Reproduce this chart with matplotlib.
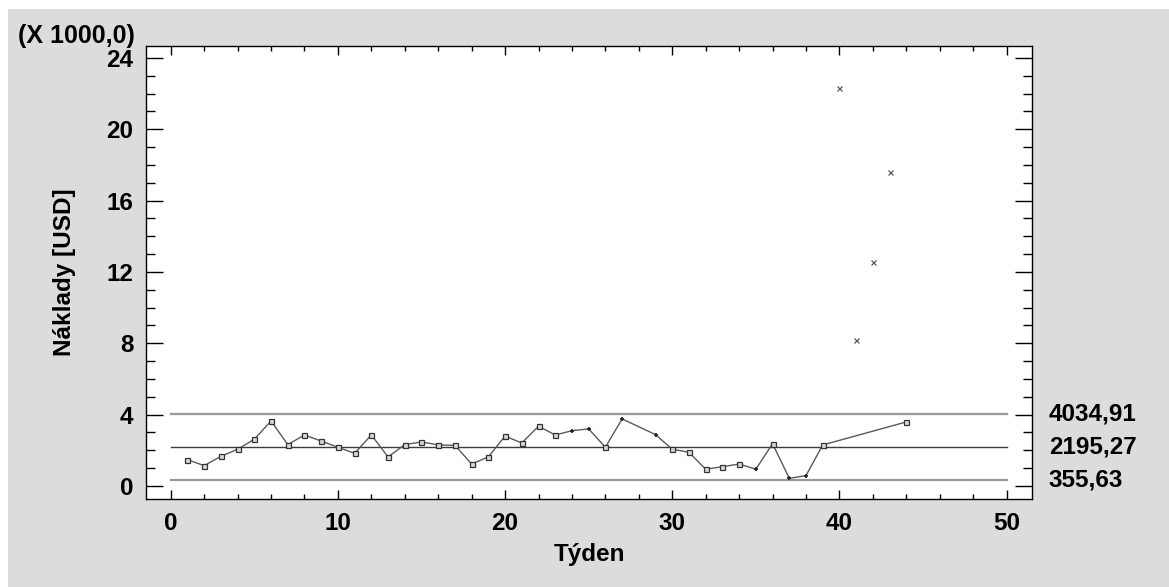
import numpy as np
import matplotlib.pyplot as plt
from matplotlib.patches import Rectangle
from matplotlib.ticker import MultipleLocator

plt.rcParams['font.family'] = ['Liberation Sans', 'DejaVu Sans']
plt.rcParams['font.weight'] = 'bold'

# weekly costs in USD
weeks = [1, 2, 3, 4, 5, 6, 7, 8, 9, 10, 11, 12, 13, 14, 15, 16, 17, 18, 19, 20,
         21, 22, 23, 24, 25, 26, 27, 29, 30, 31, 32, 33, 34, 35, 36, 37, 38, 39, 44]
costs = [1475, 1140, 1665, 2060, 2620, 3645, 2320, 2860, 2520, 2170,
         1830, 2860, 1630, 2320, 2470, 2300, 2280, 1230, 1630, 2800,
         2410, 3350, 2860, 3100, 3200, 2170, 3760, 2880, 2060, 1890,
         940, 1080, 1230, 940, 2370, 430, 580, 2300, 3590]
# weeks flagged by run rules (drawn with a plus instead of a square)
flagged = [24, 25, 27, 29, 35, 37, 38]

# weeks excluded from the limit calculation
excl_weeks = [40, 41, 42, 43]
excl_costs = [22300, 8190, 12550, 17610]

ucl, cl, lcl = 4034.91, 2195.27, 355.63

FS = 17.5

fig = plt.figure(figsize=(11.69, 5.87), dpi=100, facecolor='white')
fig.patches.append(Rectangle((8 / 1169, 0), 1, 1 - 9 / 587, transform=fig.transFigure,
                             facecolor='#dcdcdc', edgecolor='none', zorder=-10))
ax = fig.add_axes([146 / 1169, 88 / 587, 886 / 1169, 453 / 587])
ax.set_facecolor('white')

x = np.array(weeks)
y = np.array(costs) / 1000.0

ax.plot([0, 50], [ucl / 1000, ucl / 1000], color='#9a9a9a', lw=1.6, zorder=1)
ax.plot([0, 50], [lcl / 1000, lcl / 1000], color='#9a9a9a', lw=1.6, zorder=1)
ax.plot([0, 50], [cl / 1000, cl / 1000], color='#3c3c3c', lw=1.0, zorder=1)

ax.plot(x, y, color='#5a5a5a', lw=1.0, zorder=2)
sq = ~np.isin(x, flagged)
ax.plot(x[sq], y[sq], ls='none', marker='s', ms=3.6, mfc='#d8d8d8', mec='#333333',
        mew=0.9, zorder=3)
ax.plot(x[~sq], y[~sq], ls='none', marker='+', ms=3.2, mec='#222222', mew=1.2, zorder=3)
ax.plot(excl_weeks, np.array(excl_costs) / 1000.0, ls='none', marker='x', ms=3.6,
        mec='#555555', mew=0.9, zorder=3)

ax.set_xlim(-1.48, 51.52)
ax.set_ylim(-0.73, 24.67)
ax.xaxis.set_major_locator(MultipleLocator(10))
ax.xaxis.set_minor_locator(MultipleLocator(2))
ax.yaxis.set_major_locator(MultipleLocator(4))
ax.yaxis.set_minor_locator(MultipleLocator(1))
ax.tick_params(axis='both', which='both', direction='in', top=True, right=True,
               color='black', width=1, labelsize=FS)
ax.tick_params(axis='y', which='major', length=12.2, pad=9)
ax.tick_params(axis='y', which='minor', length=6.5)
ax.tick_params(axis='x', which='major', length=6.5, pad=9)
ax.tick_params(axis='x', which='minor', length=3.6)
for lbl in ax.get_xticklabels() + ax.get_yticklabels():
    lbl.set_fontweight('bold')
for s in ax.spines.values():
    s.set_linewidth(1.0)
    s.set_color('black')

ax.set_xlabel('Týden', fontsize=FS, fontweight='bold', labelpad=6)
ax.set_ylabel('Náklady [USD]', fontsize=FS, fontweight='bold', labelpad=22)
fig.text(135 / 1169, 1 - 36 / 587, '(X 1000,0)', ha='right', va='center',
         fontsize=FS + 0.5, fontweight='bold')

for v in (ucl, cl, lcl):
    ax.annotate(f'{v:.2f}'.replace('.', ','), xy=(1.019, v / 1000),
                xycoords=('axes fraction', 'data'), ha='left', va='center',
                fontsize=FS, fontweight='bold', annotation_clip=False)

fig.savefig('out.png', dpi=100, facecolor=fig.get_facecolor())
